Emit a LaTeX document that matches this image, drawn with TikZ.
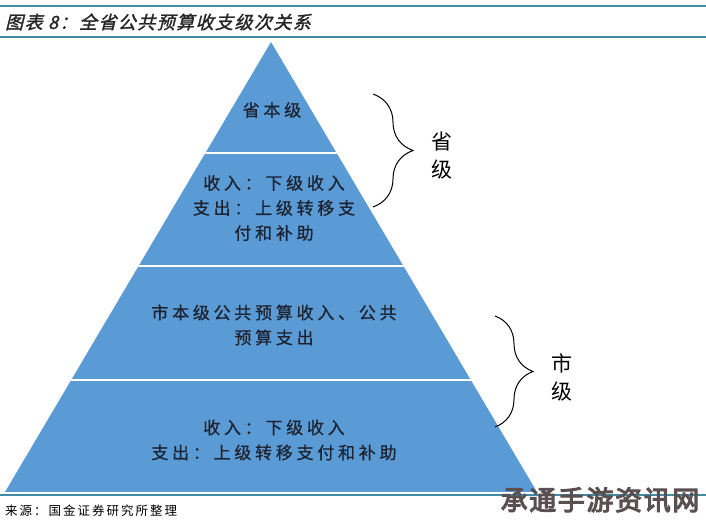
\documentclass[tikz,border=0pt]{standalone}
\usepackage{fontspec}
\newfontfamily\cjk[LetterSpace=22,FakeBold=0.6]{Noto Sans CJK SC}
\newfontfamily\titlecjk[FakeSlant=0.25,FakeBold=1.5,LetterSpace=8]{Noto Sans CJK SC}
\newfontfamily\sidecjk{Noto Sans CJK SC}
\newfontfamily\srccjk[LetterSpace=16]{Noto Sans CJK SC}
\newfontfamily\wmcjk[FakeBold=4,LetterSpace=6]{Noto Sans CJK SC}
\usepackage{tikz}
\usetikzlibrary{calc,positioning,decorations.pathreplacing}

\definecolor{tierblue}{RGB}{91,155,213}
\definecolor{rulecol}{RGB}{64,140,165}
\definecolor{tiertext}{RGB}{28,34,48}
\definecolor{wmgray}{RGB}{90,80,82}

\tikzset{
  tierlabel/.style={text=tiertext,align=center,inner sep=0pt,
    font=\cjk\fontsize{17bp}{25bp}\selectfont},
  sidelabel/.style={align=center,inner sep=0pt,
    font=\sidecjk\fontsize{21bp}{28bp}\selectfont},
  rule/.style={draw=rulecol,line width=2bp},
  levelbrace/.style={decorate,decoration={brace,amplitude=#1},line width=1bp},
}

\begin{document}
\begin{tikzpicture}[x=1bp,y=1bp]
  \useasboundingbox (0,0) rectangle (706,522);

  % title between the two rules
  \draw[rule] (0,515.5) -- (706,515.5);
  \draw[rule] (0,484.5) -- (706,484.5);
  \node[anchor=west,inner sep=0pt,text=black!85,
    font=\titlecjk\fontsize{18bp}{18bp}\selectfont] (title) at (5,500)
    {图表 8：全省公共预算收支级次关系};

  % pyramid
  \coordinate (top) at (271,480);
  \coordinate (bl) at (5,30);
  \coordinate (br) at (537,30);
  \fill[tierblue] (top) -- (bl) -- (br) -- cycle;
  \begin{scope}
    \clip (top) -- (bl) -- (br) -- cycle;
    \foreach \y in {369,256,142}
      \draw[white,line width=2.5bp] (0,\y) -- (706,\y);
  \end{scope}

  \node[tierlabel] (prov) at (272,412) {省本级};
  \node[tierlabel] (provsub) at (274,314) {收入：下级收入\\支出：上级转移支\\付和补助};
  \node[tierlabel] (city) at (274,197) {市本级公共预算收入、公共\\预算支出};
  \node[tierlabel] (citysub) at (274,82) {收入：下级收入\\支出：上级转移支付和补助};

  % braces
  \coordinate (pb1) at (373,428);
  \coordinate (pb2) at (373,315);
  \draw[levelbrace=40bp] (pb1) -- (pb2);
  \node[sidelabel] (provlvl) at (442,366) {省\\级};

  \coordinate (cb1) at (495,206);
  \coordinate (cb2) at (495,95);
  \draw[levelbrace=38bp] (cb1) -- (cb2);
  \node[sidelabel] (citylvl) at (562,145) {市\\级};

  % bottom rule and source
  \draw[rule] (0,26.5) -- (706,26.5);
  \node[anchor=west,inner sep=0pt,
    font=\srccjk\fontsize{12.5bp}{12.5bp}\selectfont] (source) at (5,11)
    {来源：国金证券研究所整理};
  \node[inner sep=0pt,text=wmgray,
    font=\wmcjk\fontsize{27bp}{27bp}\selectfont] (mark) at (600,22)
    {承通手游资讯网};
\end{tikzpicture}
\end{document}
